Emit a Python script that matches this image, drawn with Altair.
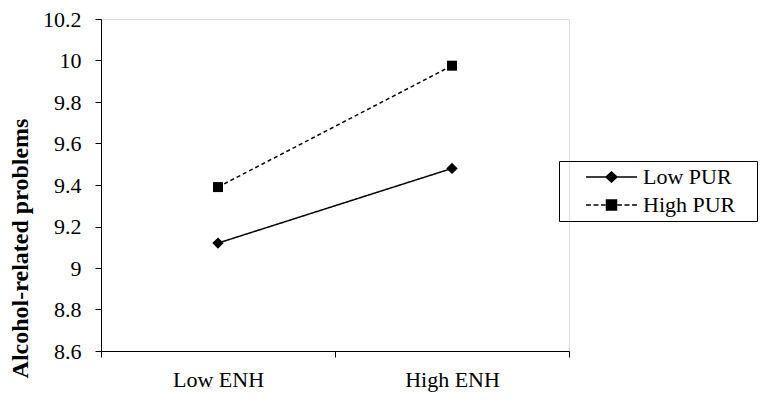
import altair as alt
import pandas as pd

enh = ["Low ENH", "High ENH"]
groups = ["Low PUR", "High PUR"]
low_pur = [9.12, 9.48]
high_pur = [9.39, 9.975]
y_ticks = [8.6, 8.8, 9.0, 9.2, 9.4, 9.6, 9.8, 10.0, 10.2]

rows = []
for g, vals in zip(groups, [low_pur, high_pur]):
    for e, v in zip(enh, vals):
        rows.append({"ENH": e, "PUR": g, "value": v})
df = pd.DataFrame(rows)

FONT = "Times New Roman"

x_enc = alt.X("ENH:N", sort=enh,
              scale=alt.Scale(paddingInner=0, paddingOuter=0),
              axis=alt.Axis(title=None, labelAngle=0, tickBand="extent",
                            domainColor="black", tickColor="black", tickSize=6,
                            labelFont=FONT, labelFontSize=22, labelColor="black",
                            labelPadding=12, grid=False))
y_enc = alt.Y("value:Q",
              scale=alt.Scale(domain=[8.6, 10.2], nice=False, zero=False),
              axis=alt.Axis(title="Alcohol-related problems", values=y_ticks, format="~g",
                            domainColor="black", tickColor="black", tickSize=6,
                            labelFont=FONT, labelFontSize=22, labelColor="black",
                            labelPadding=14, grid=False,
                            titleFont=FONT, titleFontSize=24, titleFontWeight="bold",
                            titleColor="black", titleAngle=270, titleX=-74, titleY=229,
                            titleAlign="center", titleBaseline="alphabetic"))

base = alt.Chart(df)

lines = base.mark_line(color="black", strokeWidth=1.5).encode(
    x=x_enc, y=y_enc,
    strokeDash=alt.StrokeDash("PUR:N", sort=groups,
                              scale=alt.Scale(domain=groups, range=[[1, 0], [4, 3]]),
                              legend=None),
    detail="PUR:N",
)

points = base.mark_point(filled=True, color="black", opacity=1).encode(
    x=x_enc, y=y_enc,
    shape=alt.Shape("PUR:N", scale=alt.Scale(domain=groups, range=["diamond", "square"]),
                    legend=None),
    size=alt.Size("PUR:N", scale=alt.Scale(domain=groups, range=[130, 100]), legend=None),
)

low_sym = "M-4.1,0H1M-1.55,-0.5L-1.0,0L-1.55,0.5L-2.1,0Z"
high_sym = ("M-4.1,0H-3.6M-3.35,0H-2.85M-2.6,0H-2.15"
            "M-2.05,-0.5H-1.05V0.5H-2.05Z"
            "M-0.95,0H-0.5M-0.25,0H0.25M0.5,0H1")

LABEL_EXPR = "datum.label + '\u00a0\u00a0\u00a0\u200b'"


def legend_props(box, label_color):
    props = dict(title=None, orient="none", legendX=458, legendY=142,
                 padding=5, symbolOpacity=1, symbolSize=400,
                 symbolStrokeWidth=1.5, symbolOffset=52, labelOffset=5,
                 labelExpr=LABEL_EXPR, labelFont=FONT, labelFontSize=22,
                 labelColor=label_color, rowPadding=6)
    if box:
        props["strokeColor"] = "black"
    return alt.Legend(**props)


# filled part of the legend symbols (markers)
legend_fill = base.mark_point(filled=True, color="black", opacity=0, size=400).encode(
    x=x_enc, y=y_enc,
    shape=alt.Shape("PUR:N", sort=groups,
                    scale=alt.Scale(domain=groups, range=[low_sym, high_sym]),
                    legend=legend_props(False, "transparent")),
)

# stroked part of the legend symbols (line pieces), labels and box
legend_stroke = base.mark_point(filled=False, color="black", opacity=0, size=400).encode(
    x=x_enc, y=y_enc,
    shape=alt.Shape("PUR:N", sort=groups,
                    scale=alt.Scale(domain=groups, range=[low_sym, high_sym]),
                    legend=legend_props(True, "black")),
)

chart = alt.layer(lines, points, legend_fill, legend_stroke).resolve_scale(
    shape="independent"
).properties(
    width=468, height=332,
    padding={"left": 93, "top": 11, "right": 189, "bottom": 44},
    autosize="none",
).configure_view(stroke=None).configure(background="white")

chart.save("out.html", embed_options={"renderer": "svg", "actions": False})
